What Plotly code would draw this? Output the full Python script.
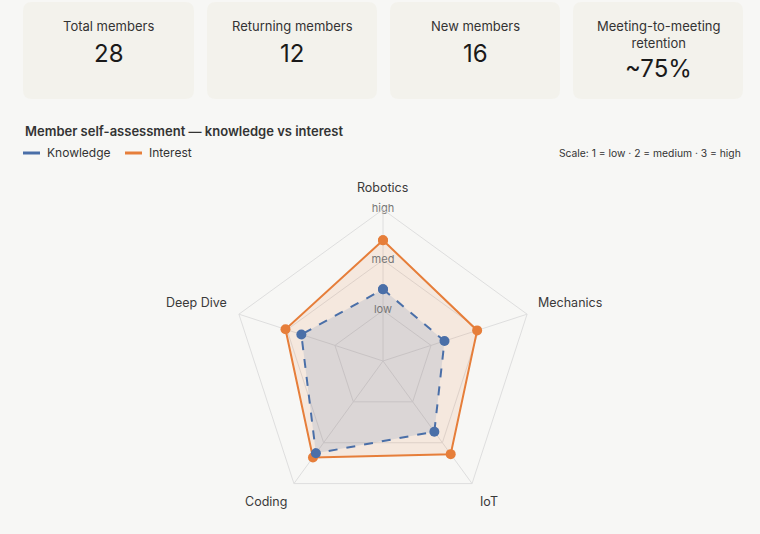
import plotly.graph_objects as go

W, H = 760, 534

# KPI cards
card_labels = ["Total members", "Returning members", "New members", "Meeting-to-meeting<br>retention"]
card_values = ["28", "12", "16", "~75%"]

# radar data (scale 1 = low, 2 = medium, 3 = high)
topics = ["Robotics", "Mechanics", "IoT", "Coding", "Deep Dive"]
knowledge = [1.42, 1.28, 1.73, 2.26, 1.70]
interest = [2.39, 1.96, 2.28, 2.36, 2.03]
scale_vals = [1, 2, 3]
scale_text = ["low", "med", "high"]

BLUE = "#4a6fa8"
ORANGE = "#e67e3a"
BG = "#f7f7f5"
CARD = "#f3f2ec"
FONT = "Inter, Roboto, sans-serif"

# pixel centres of the topic names around the radar
label_xy = [(383, 187), (570, 302), (489, 501), (266, 501), (196, 302)]


def px(x):
    return x / W


def py(y):
    return 1 - y / H


def rounded(x0, y0, x1, y1, r=9):
    # rounded rectangle path in paper coords, built from pixel values
    rx, ry = r / W, r / H
    a, b, c, d = px(x0), py(y1), px(x1), py(y0)
    return (f"M {a+rx},{b} L {c-rx},{b} Q {c},{b} {c},{b+ry} "
            f"L {c},{d-ry} Q {c},{d} {c-rx},{d} L {a+rx},{d} "
            f"Q {a},{d} {a},{d-ry} L {a},{b+ry} Q {a},{b} {a+rx},{b} Z")


fig = go.Figure()

r_closed = lambda v: v + v[:1]
t_closed = topics + topics[:1]

fig.add_trace(go.Scatterpolar(
    r=r_closed(interest), theta=t_closed, name="Interest", mode="lines+markers",
    fill="toself", fillcolor="rgba(230,126,58,0.12)",
    line=dict(color=ORANGE, width=2), marker=dict(size=10, color=ORANGE),
    showlegend=False))
fig.add_trace(go.Scatterpolar(
    r=r_closed(knowledge), theta=t_closed, name="Knowledge", mode="lines+markers",
    fill="toself", fillcolor="rgba(74,111,168,0.15)",
    line=dict(color=BLUE, width=2, dash="dash"), marker=dict(size=10, color=BLUE),
    showlegend=False))
fig.add_trace(go.Scatterpolar(
    r=scale_vals, theta=[topics[0]] * 3, mode="text", text=scale_text,
    textfont=dict(size=11, color="#777", family=FONT), showlegend=False,
    hoverinfo="skip"))

cx, cy, rad = 383, 361, 151.5
fig.update_layout(
    width=W, height=H, margin=dict(l=0, r=0, t=0, b=0),
    paper_bgcolor=BG, plot_bgcolor=BG, font=dict(family=FONT, color="#333"),
    polar=dict(
        domain=dict(x=[px(cx - rad), px(cx + rad)], y=[py(cy + rad), py(cy - rad)]),
        bgcolor="rgba(0,0,0,0)", gridshape="linear",
        radialaxis=dict(range=[0, 3], tickvals=scale_vals, showticklabels=False,
                        ticks="", showline=False, gridcolor="#dedede", gridwidth=1),
        angularaxis=dict(rotation=90, direction="clockwise", gridcolor="#dedede",
                         linecolor="#dedede", showline=True, ticks="",
                         showticklabels=False),
    ),
)

shapes = []
annotations = []

# topic names
for (lx, ly), name in zip(label_xy, topics):
    annotations.append(dict(x=px(lx), y=py(ly), xref="paper", yref="paper", text=name,
                            showarrow=False, xanchor="center", yanchor="middle",
                            font=dict(size=12.5, color="#3a3a3a")))

# cards
x_edges = [(23, 194), (207, 377), (390, 560), (573, 743)]
for (x0, x1), lab, val in zip(x_edges, card_labels, card_values):
    shapes.append(dict(type="path", xref="paper", yref="paper", path=rounded(x0, 2, x1, 99),
                       fillcolor=CARD, line=dict(width=0), layer="below"))
    two = "<br>" in lab
    annotations.append(dict(x=px((x0 + x1) / 2), y=py(34 if two else 26), xref="paper", yref="paper",
                            text=lab, showarrow=False, font=dict(size=13, color="#333"),
                            xanchor="center", yanchor="middle"))
    annotations.append(dict(x=px((x0 + x1) / 2), y=py(69 if two else 53), xref="paper", yref="paper",
                            text=val, showarrow=False, font=dict(size=24, color="#1a1a1a"),
                            xanchor="center", yanchor="middle"))

annotations.append(dict(x=px(23), y=py(131), xref="paper", yref="paper", xanchor="left", yanchor="middle",
                        text="Member self-assessment — knowledge vs interest", showarrow=False,
                        font=dict(size=13, color="#333", weight=600)))
annotations.append(dict(x=px(743), y=py(153), xref="paper", yref="paper", xanchor="right", yanchor="middle",
                        text="Scale: 1 = low · 2 = medium · 3 = high", showarrow=False,
                        font=dict(size=10.3, color="#333")))

# legend swatches
for x0, color, name in [(23, BLUE, "Knowledge"), (125, ORANGE, "Interest")]:
    shapes.append(dict(type="line", xref="paper", yref="paper", x0=px(x0), x1=px(x0 + 17),
                       y0=py(153), y1=py(153), line=dict(color=color, width=3)))
    annotations.append(dict(x=px(x0 + 22), y=py(153), xref="paper", yref="paper", xanchor="left",
                            yanchor="middle", text=name, showarrow=False, font=dict(size=12, color="#333")))

fig.update_layout(shapes=shapes, annotations=annotations)

fig.write_html("out.html", config={"displayModeBar": False},
               post_script="document.body.style.margin='0';"
                           "document.body.style.background='%s';" % BG)
